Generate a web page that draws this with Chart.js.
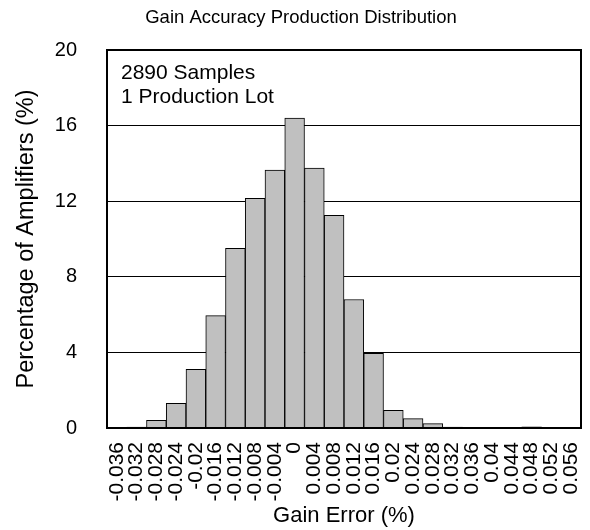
<!DOCTYPE html>
<html>
<head>
<meta charset="utf-8">
<script src="https://cdn.jsdelivr.net/npm/chart.js@4/dist/chart.umd.min.js"></script>
<style>
  body { margin: 0; background: #fff; }
</style>
</head>
<body>
<canvas id="hist" width="590" height="530"></canvas>
<script>
// histogram bins (gain error, %)
var binLabels = ['-0.036', '-0.032', '-0.028', '-0.024', '-0.02', '-0.016', '-0.012', '-0.008',
  '-0.004', '0', '0.004', '0.008', '0.012', '0.016', '0.02', '0.024', '0.028', '0.032',
  '0.036', '0.04', '0.044', '0.048', '0.052', '0.056'];

// percentage of amplifiers in each bin
var percentValues = [0, 0.05, 0.4, 1.3, 3.1, 5.95, 9.5, 12.15, 13.65, 16.4, 13.75, 11.25,
  6.8, 3.95, 0.93, 0.5, 0.23, 0.05, 0, 0, 0, 0.06, 0, 0];

var yTicks = [0, 4, 8, 12, 16, 20];
var noteLines = ['2890 Samples', '1 Production Lot'];

var fontName = '"Liberation Sans", Arial, sans-serif';

// frame around the plot + the sample note
var framePlugin = {
  id: 'frame',
  afterDraw: function (chart) {
    var ctx = chart.ctx;
    var a = chart.chartArea;
    ctx.save();
    ctx.strokeStyle = '#000';
    ctx.lineWidth = 2;
    ctx.strokeRect(a.left, a.top, a.right - a.left, a.bottom - a.top);
    ctx.fillStyle = '#000';
    ctx.font = '21px ' + fontName;
    ctx.textBaseline = 'middle';
    noteLines.forEach(function (txt, i) {
      ctx.fillText(txt, a.left + 14, a.top + 23 + i * 24);
    });
    ctx.restore();
  }
};

new Chart(document.getElementById('hist'), {
  type: 'bar',
  data: {
    labels: binLabels,
    datasets: [{
      data: percentValues,
      backgroundColor: '#c0c0c0',
      borderColor: '#000',
      borderWidth: 1,
      categoryPercentage: 1.0,
      barPercentage: 1.0
    }]
  },
  options: {
    responsive: false,
    animation: false,
    // left pad pushes the main title centre to the right, like the original
    layout: { padding: { left: 21, right: 9, top: 0, bottom: 0 } },
    plugins: {
      legend: { display: false },
      tooltip: { enabled: false },
      title: {
        display: true,
        text: 'Gain Accuracy Production Distribution',
        color: '#000',
        font: { family: fontName, size: 18.5, weight: 'normal' },
        padding: { top: 7, bottom: 20.8 }
      }
    },
    scales: {
      x: {
        grid: { display: false, drawTicks: false },
        border: { display: false },
        ticks: {
          color: '#000',
          font: { family: fontName, size: 21 },
          autoSkip: false,
          maxRotation: 90,
          minRotation: 90,
          padding: 14
        },
        title: {
          display: true,
          text: 'Gain Error (%)',
          color: '#000',
          font: { family: fontName, size: 22 },
          padding: { top: 0, bottom: 1 }
        },
        afterFit: function (scale) {
          scale.height = 102;
          scale.paddingLeft = 0;
          scale.paddingRight = 0;
        }
      },
      y: {
        min: 0,
        max: 20,
        afterBuildTicks: function (scale) {
          scale.ticks = yTicks.map(function (v) { return { value: v }; });
        },
        grid: { color: '#000', lineWidth: 1, drawTicks: false },
        border: { display: false },
        ticks: {
          color: '#000',
          font: { family: fontName, size: 20 },
          padding: 30
        },
        title: {
          display: true,
          text: 'Percentage of Amplifiers (%)',
          color: '#000',
          font: { family: fontName, size: 23.5, lineHeight: 1 },
          padding: { top: -6, bottom: 0 }
        },
        afterFit: function (scale) { scale.width = 86; }
      }
    }
  },
  plugins: [framePlugin]
});
</script>
</body>
</html>
